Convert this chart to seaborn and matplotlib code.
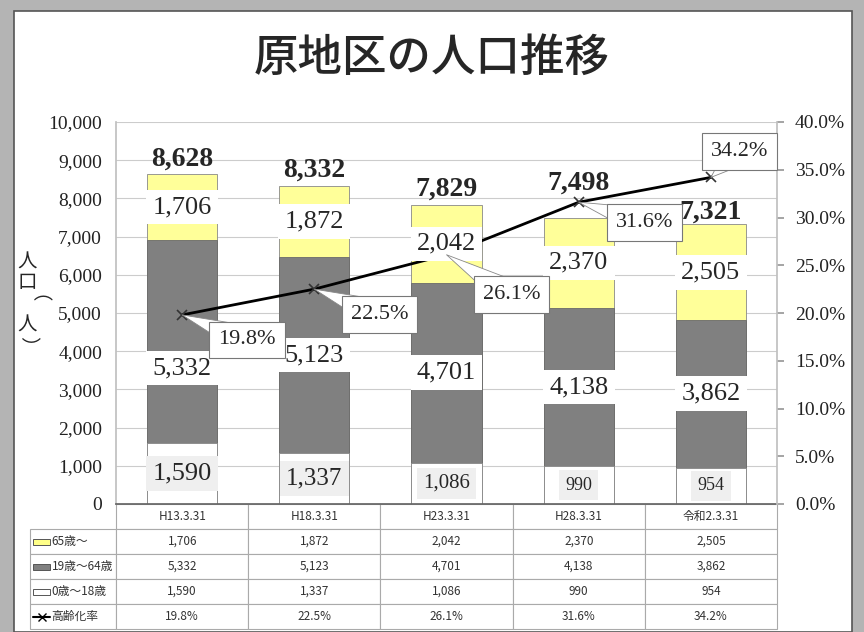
import pandas as pd
import seaborn as sns
import matplotlib.pyplot as plt
from matplotlib.patches import Rectangle
from matplotlib.lines import Line2D

periods = ["H13.3.31", "H18.3.31", "H23.3.31", "H28.3.31", "令和2.3.31"]
age_65_over = [1706, 1872, 2042, 2370, 2505]
age_19_64 = [5332, 5123, 4701, 4138, 3862]
age_0_18 = [1590, 1337, 1086, 990, 954]
aging_rate = [19.8, 22.5, 26.1, 31.6, 34.2]
series_names = ["65歳～", "19歳～64歳", "0歳～18歳", "高齢化率"]

sns.set_theme(style="white")
plt.rcParams["font.family"] = ["Liberation Serif", "Noto Sans CJK JP", "DejaVu Sans"]
jp = ["Noto Sans CJK JP", "DejaVu Sans"]

df = pd.DataFrame({"period": periods, "old": age_65_over, "mid": age_19_64,
                   "young": age_0_18, "rate": aging_rate})
df["lower2"] = df["mid"] + df["young"]
df["total"] = df["old"] + df["lower2"]
df["x"] = range(len(df))

fig = plt.figure(figsize=(8.64, 6.32), dpi=100, facecolor="#b4b4b4")
fig.patches.append(Rectangle((14 / 864, 0), 838 / 864, 1 - 11 / 632, transform=fig.transFigure,
                             fc="white", ec="#555", lw=1.2, zorder=-5))

ax = fig.add_axes([116 / 864, 1 - 504 / 632, 661 / 864, 382 / 632])
ax.patch.set_alpha(0)

# stacked bars drawn as overlapping cumulative totals
sns.barplot(data=df, x="period", y="total", color="#ffff99", saturation=1, width=0.53,
            edgecolor="#888", linewidth=0.6, ax=ax)
sns.barplot(data=df, x="period", y="lower2", color="#808080", saturation=1, width=0.53,
            edgecolor="#6a6a6a", linewidth=0.6, ax=ax)
sns.barplot(data=df, x="period", y="young", color="white", saturation=1, width=0.53,
            edgecolor="#888", linewidth=0.6, ax=ax)

ax.set_ylim(0, 10000)
ax.set_yticks(range(0, 10001, 1000))
ax.set_yticklabels([f"{v:,}" for v in range(0, 10001, 1000)], fontsize=14, color="#222")
ax.yaxis.grid(True, color="#cccccc", lw=0.8)
ax.set_axisbelow(True)
ax.set_xlabel("")
ax.set_ylabel("")
ax.tick_params(axis="x", length=0, labelbottom=False)
ax.tick_params(axis="y", length=0, pad=10)
ax.spines["top"].set_visible(False)
ax.spines["right"].set_visible(False)
ax.spines["left"].set_color("#c0c0c0")
ax.spines["bottom"].set_color("#666")

ax2 = ax.twinx()
sns.lineplot(data=df, x="x", y="rate", ax=ax2, color="black", lw=2, marker="x",
             markersize=7, markeredgecolor="#333", markeredgewidth=1.2, zorder=3)
ax.set_xlim(-0.5, 4.5)
ax2.set_ylim(0, 40)
ax2.set_yticks(range(0, 41, 5))
ax2.set_yticklabels([f"{v:.1f}%" for v in range(0, 41, 5)], fontsize=14, color="#222")
ax2.set_xlabel("")
ax2.set_ylabel("")
ax2.tick_params(axis="y", length=5, color="#999", direction="out", pad=8)
for s in ["left", "top", "bottom"]:
    ax2.spines[s].set_visible(False)
ax2.spines["right"].set_color("#c0c0c0")

# value labels
mid_shift = [-700, 0, 0, 0, 0]
bottom_sizes = [19, 18, 15, 13, 13]
total_lift = [2, 2, 2, 16, 0]
for i, row in df.iterrows():
    ax2.text(i, row["lower2"] + row["old"] / 2, f"{row['old']:,}", transform=ax.transData,
             ha="center", va="center", fontsize=19, zorder=5,
             bbox=dict(fc="white", ec="none", pad=4.5))
    ax2.text(i, row["young"] + row["mid"] / 2 + mid_shift[i], f"{row['mid']:,}",
             transform=ax.transData, ha="center", va="center", fontsize=19, zorder=5,
             bbox=dict(fc="white", ec="none", pad=4.5))
    ax2.text(i, row["young"] / 2, f"{row['young']:,}", transform=ax.transData,
             ha="center", va="center", fontsize=bottom_sizes[i], zorder=5,
             bbox=dict(fc="#efefef", ec="none", pad=4.5))
    ax2.annotate(f"{row['total']:,}", xy=(i, row["total"]), xycoords=ax.transData,
                 xytext=(0, total_lift[i]), textcoords="offset points", ha="center",
                 va="bottom", fontsize=20, fontweight="bold", zorder=5)

rate_offsets = [(65, -25), (65, -25), (65, -40), (66, -20), (29, 26)]
for i, r in enumerate(aging_rate):
    ax2.annotate(f"{r:.1f}%", xy=(i, r), xytext=rate_offsets[i], textcoords="offset pixels",
                 ha="center", va="center", fontsize=16, zorder=6,
                 bbox=dict(boxstyle="square,pad=0.4", fc="white", ec="#777", lw=0.8),
                 arrowprops=dict(arrowstyle="wedge,tail_width=1.3,shrink_factor=0.5",
                                 fc="white", ec="#888", lw=0.6, patchA=None,
                                 shrinkA=0, shrinkB=0))

# data table under the chart
cell_text = [[""] + periods,
             [series_names[0]] + [f"{v:,}" for v in age_65_over],
             [series_names[1]] + [f"{v:,}" for v in age_19_64],
             [series_names[2]] + [f"{v:,}" for v in age_0_18],
             [series_names[3]] + [f"{v:.1f}%" for v in aging_rate]]
tbl = ax.table(cellText=cell_text, cellLoc="center", colWidths=[86] + [132] * 5,
               bbox=[-86 / 661, -125 / 382, 747 / 661, 125 / 382])
tbl.auto_set_font_size(False)
for (r, c), cell in tbl.get_celld().items():
    cell.set_edgecolor("#aaaaaa")
    cell.set_linewidth(0.8)
    cell.get_text().set_fontsize(8.5)
    cell.get_text().set_fontfamily(jp)
    cell.get_text().set_color("#333")
    if r == 0 and c == 0:
        cell.visible_edges = ""
    elif c == 0:
        cell._loc = "left"
        cell.PAD = 0.25
        cell.get_text().set_ha("left")

key_x0, key_x1 = -83 / 661, -66 / 661
key_colors = ["#ffff88", "#808080", "white"]
for k in range(4):
    yc = -(12.5 + 25 * (k + 1)) / 382
    if k < 3:
        ax.add_patch(Rectangle((key_x0, yc - 3 / 382), key_x1 - key_x0, 6 / 382,
                               transform=ax.transAxes, fc=key_colors[k], ec="#555",
                               lw=0.7, clip_on=False))
    else:
        ax.add_line(Line2D([key_x0, key_x1], [yc, yc], transform=ax.transAxes, color="black",
                           lw=1.5, clip_on=False))
        ax.add_line(Line2D([(key_x0 + key_x1) / 2], [yc], transform=ax.transAxes, marker="x",
                           color="black", markersize=6, clip_on=False))

fig.text(0.5, 1 - 58 / 632, "原地区の人口推移", fontsize=32, family=jp, fontweight="medium",
         ha="center", va="center")
for k, (ch, rot) in enumerate([("人", 0), ("口", 0), ("（", -90), ("人", 0), ("）", -90)]):
    fig.text(27 / 864, 1 - (262 + 21 * k) / 632, ch, fontsize=14, family=jp,
             ha="center", va="center", rotation=rot)

fig.savefig("out.png", dpi=100)
